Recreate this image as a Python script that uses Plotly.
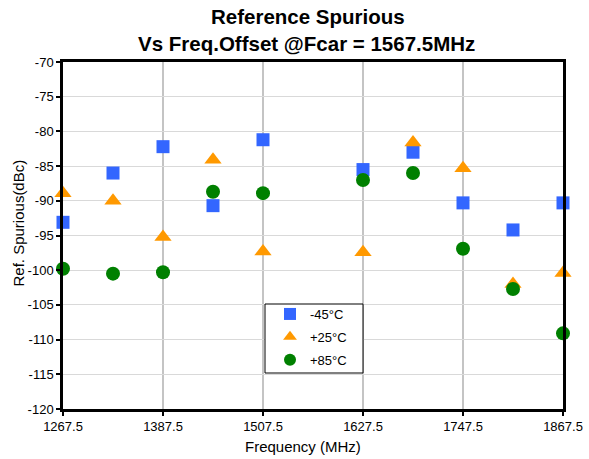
import plotly.graph_objects as go

freq = [1267.5, 1327.5, 1387.5, 1447.5, 1507.5, 1627.5, 1687.5, 1747.5, 1807.5, 1867.5]
m45 = [-93.1, -86.0, -82.2, -90.7, -81.2, -85.5, -83.0, -90.3, -94.2, -90.3]
p25 = [-88.9, -90.0, -95.2, -84.1, -97.3, -97.4, -81.6, -85.3, -102.0, -100.4]
p85 = [-99.8, -100.5, -100.3, -88.7, -88.9, -87.0, -86.0, -96.9, -102.7, -109.1]
xticks = [1267.5, 1387.5, 1507.5, 1627.5, 1747.5, 1867.5]
yticks = list(range(-120, -65, 5))

FONT = "Liberation Sans, Arial"

fig = go.Figure()
fig.add_trace(go.Scatter(x=freq, y=m45, mode="markers", name="-45°C", legendgroup="a",
                         marker=dict(symbol="square", size=13, color="#3366FF")))
fig.add_trace(go.Scatter(x=freq, y=p25, mode="markers", name="+25°C", legendgroup="b",
                         marker=dict(symbol="triangle-up", size=15, color="#FF9900")))
fig.add_trace(go.Scatter(x=freq, y=p85, mode="markers", name="+85°C", legendgroup="c",
                         marker=dict(symbol="circle", size=14, color="#008000")))

W, H = 589, 459
L, T = 63, 62
PW, PH = 500, 347

def py(y):
    return (T + PH - y) / PH

def px(x):
    return (x - L) / PW

fig.update_layout(
    width=W, height=H,
    margin=dict(l=L, r=W - L - PW, t=T, b=H - T - PH, autoexpand=False),
    paper_bgcolor="white", plot_bgcolor="white",
    font=dict(family=FONT, size=13, color="black"),
    showlegend=True,
    legend=dict(x=px(270), y=py(299), xanchor="left", yanchor="top",
                borderwidth=0, bgcolor="rgba(0,0,0,0)",
                font=dict(size=13), itemsizing="constant",
                traceorder="grouped", tracegroupgap=3),
    xaxis=dict(range=[1267.5, 1867.5], tickvals=xticks,
               ticktext=[str(v) for v in xticks], automargin=False,
               showgrid=True, gridcolor="#C4C4C4", gridwidth=2,
               showline=True, linecolor="black", linewidth=2.5, mirror=True,
               ticks="outside", ticklen=4, tickcolor="black", tickwidth=2,
               tickfont=dict(size=13),
               zeroline=False),
    yaxis=dict(range=[-120, -70], tickvals=yticks,
               ticktext=[str(v) for v in yticks], automargin=False,
               showgrid=True, gridcolor="#D9D9D9", gridwidth=1,
               showline=True, linecolor="black", linewidth=2.5, mirror=True,
               ticks="outside", ticklen=4, tickcolor="black", tickwidth=2,
               tickfont=dict(size=13),
               zeroline=False),
    shapes=[
        dict(type="rect", xref="paper", yref="paper",
             x0=px(265), x1=px(363), y0=py(304), y1=py(373),
             line=dict(color="black", width=1), fillcolor="white", layer="above"),
    ],
    annotations=[
        dict(text="<b>Reference Spurious</b>", xref="paper", yref="paper",
             x=px(308), y=py(17), xanchor="center", yanchor="middle",
             showarrow=False, font=dict(size=20.5)),
        dict(text="<b>Vs Freq.Offset @Fcar = 1567.5MHz</b>", xref="paper", yref="paper",
             x=px(306), y=py(44), xanchor="center", yanchor="middle",
             showarrow=False, font=dict(size=20.5)),
        dict(text="Frequency (MHz)", xref="paper", yref="paper",
             x=px(303), y=py(446), xanchor="center", yanchor="middle",
             showarrow=False, font=dict(size=15)),
        dict(text="Ref. Spurious(dBc)", xref="paper", yref="paper",
             x=px(18), y=py(223.5), xanchor="center", yanchor="middle",
             textangle=-90, showarrow=False, font=dict(size=15)),
    ],
)
for tr in fig.data:
    tr.cliponaxis = False

fig.write_html("out.html", config={"displayModeBar": False},
               post_script="document.body.style.margin='0';")
